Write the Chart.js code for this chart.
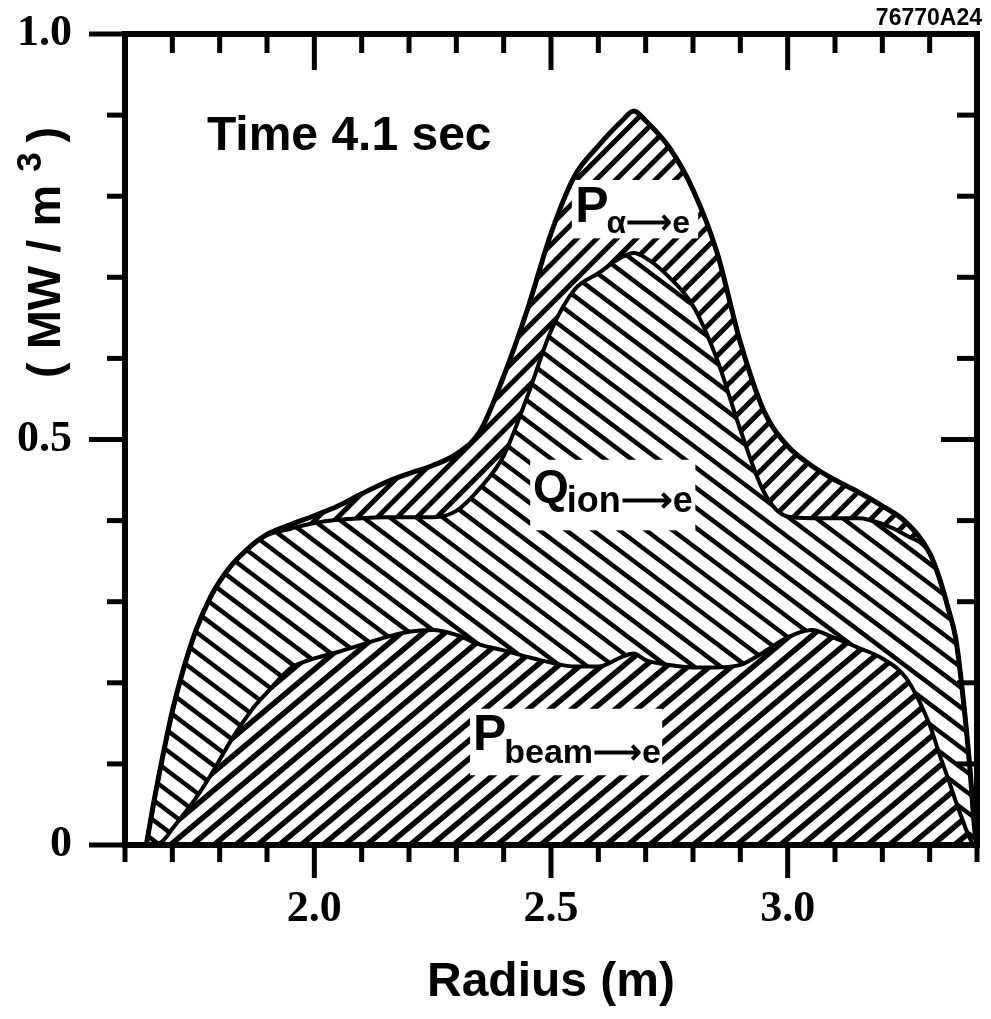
<!DOCTYPE html>
<html>
<head>
<meta charset="utf-8">
<script src="https://cdn.jsdelivr.net/npm/chart.js@4.4.1/dist/chart.umd.min.js"></script>
<style>
  html, body { margin: 0; padding: 0; background: #fff; }
  canvas { display: block; }
</style>
</head>
<body>
<canvas id="chart" width="991" height="1019"></canvas>
<script>
// radius grid (m), shared by the three boundaries
const radius = [1.645, 1.66, 1.68, 1.70, 1.72, 1.75, 1.78, 1.80, 1.825, 1.85,
  1.875, 1.90, 1.95, 2.00, 2.05, 2.10, 2.15, 2.20, 2.25, 2.30,
  2.35, 2.40, 2.45, 2.50, 2.55, 2.60, 2.65, 2.675, 2.70, 2.75,
  2.80, 2.85, 2.90, 2.95, 3.00, 3.05, 3.10, 3.15, 3.20, 3.25,
  3.30, 3.32, 3.34, 3.355, 3.37, 3.385, 3.395, 3.40];

// top of P beam->e (MW/m3)
const beamEdge = [0, 0, 0.005, 0.02, 0.035, 0.058, 0.085, 0.105, 0.13, 0.152,
  0.172, 0.188, 0.218, 0.23, 0.238, 0.247, 0.256, 0.263, 0.265, 0.259,
  0.247, 0.24, 0.232, 0.225, 0.22, 0.22, 0.232, 0.236, 0.228, 0.222,
  0.219, 0.219, 0.222, 0.238, 0.256, 0.265, 0.255, 0.243, 0.23, 0.206,
  0.148, 0.113, 0.08, 0.054, 0.03, 0.008, 0, 0];

// top of P beam->e + Q ion->e
const ionEdge = [0, 0.05, 0.11, 0.165, 0.21, 0.265, 0.305, 0.325, 0.345, 0.36,
  0.373, 0.382, 0.39, 0.397, 0.401, 0.403, 0.404, 0.404, 0.404, 0.412,
  0.44, 0.48, 0.553, 0.634, 0.685, 0.705, 0.725, 0.73, 0.724, 0.7,
  0.665, 0.6, 0.512, 0.435, 0.405, 0.403, 0.403, 0.403, 0.396, 0.382,
  0.36, 0.33, 0.29, 0.255, 0.185, 0.095, 0.02, 0];

// total, with P alpha->e on top
const totalEdge = [0, 0.05, 0.11, 0.165, 0.21, 0.265, 0.305, 0.325, 0.345, 0.36,
  0.373, 0.383, 0.395, 0.406, 0.418, 0.433, 0.447, 0.458, 0.468, 0.482,
  0.51, 0.578, 0.66, 0.754, 0.825, 0.862, 0.893, 0.905, 0.893, 0.86,
  0.808, 0.732, 0.62, 0.535, 0.492, 0.468, 0.45, 0.435, 0.418, 0.398,
  0.36, 0.33, 0.29, 0.255, 0.185, 0.095, 0.02, 0];

const xTickValues = [2.0, 2.5, 3.0];
const yTickValues = [0, 0.5, 1.0];

const W = 991, H = 1019;
const SANS = '"Liberation Sans", Arial, sans-serif';
const SERIF = '"Liberation Serif", "Times New Roman", serif';

// diagonal hatching as a canvas pattern
function makeHatch(angle, gap, lw) {
  const c = document.createElement('canvas');
  c.width = W; c.height = H;
  const g = c.getContext('2d');
  const a = angle * Math.PI / 180;
  const dx = Math.cos(a), dy = -Math.sin(a);
  const nx = -dy, ny = dx;
  const L = W + H;
  g.strokeStyle = '#000';
  g.lineWidth = lw;
  for (let k = -L; k <= L; k += gap) {
    const cx = W / 2 + nx * k, cy = H / 2 + ny * k;
    g.beginPath();
    g.moveTo(cx - dx * L, cy - dy * L);
    g.lineTo(cx + dx * L, cy + dy * L);
    g.stroke();
  }
  return g.createPattern(c, 'no-repeat');
}

const beamHatch = makeHatch(40, 14, 5.5);
const ionHatch = makeHatch(-37, 16, 4.5);
const alphaHatch = makeHatch(45, 14, 5);

// text labels sitting on white boxes (data coords)
const regionLabels = [
  { main: 'P', sub: 'α⟶e', box: [2.544, 2.811, 0.820, 0.748], at: [2.551, 0.768], size: 50, subSize: 32, subDrop: 11 },
  { main: 'Q', sub: 'ion⟶e', box: [2.456, 2.805, 0.475, 0.388], at: [2.462, 0.423], size: 46, subSize: 36, subDrop: 10 },
  { main: 'P', sub: 'beam⟶e', box: [2.329, 2.735, 0.168, 0.086], at: [2.335, 0.117], size: 50, subSize: 34, subDrop: 13 }
];

const labelBoxes = {
  id: 'labelBoxes',
  beforeDatasetsDraw(chart) {
    const { ctx, scales: { x, y } } = chart;
    ctx.save();
    ctx.fillStyle = '#fff';
    regionLabels.forEach(l => {
      const x0 = x.getPixelForValue(l.box[0]), x1 = x.getPixelForValue(l.box[1]);
      const y0 = y.getPixelForValue(l.box[2]), y1 = y.getPixelForValue(l.box[3]);
      ctx.fillRect(x0, y0, x1 - x0, y1 - y0);
    });
    ctx.restore();
  },
  afterDatasetsDraw(chart) {
    const { ctx, scales: { x, y } } = chart;
    ctx.save();
    ctx.fillStyle = '#000';
    ctx.textBaseline = 'alphabetic';
    regionLabels.forEach(l => {
      const px = x.getPixelForValue(l.at[0]), py = y.getPixelForValue(l.at[1]);
      ctx.font = 'bold ' + l.size + 'px ' + SANS;
      ctx.fillText(l.main, px, py);
      const w = ctx.measureText(l.main).width;
      ctx.font = 'bold ' + l.subSize + 'px ' + SANS;
      ctx.fillText(l.sub, px + w - 2, py + l.subDrop);
    });
    ctx.font = 'bold 48px ' + SANS;
    ctx.fillText('Time 4.1 sec', x.getPixelForValue(1.773), y.getPixelForValue(0.857));
    ctx.restore();
  }
};

// frame, tick marks, y title and figure code
const frameAndTicks = {
  id: 'frameAndTicks',
  afterDraw(chart) {
    const { ctx, chartArea: a, scales: { x, y } } = chart;
    const line = (x1, y1, x2, y2) => {
      ctx.beginPath(); ctx.moveTo(x1, y1); ctx.lineTo(x2, y2); ctx.stroke();
    };
    ctx.save();
    ctx.strokeStyle = '#000';
    ctx.lineWidth = 6;
    ctx.strokeRect(a.left, a.top, a.right - a.left, a.bottom - a.top);
    ctx.lineWidth = 5;
    for (let k = 16; k <= 34; k++) {
      const px = x.getPixelForValue(k / 10), major = k % 5 === 0;
      line(px, a.bottom, px, a.bottom + (major ? 33 : 17));
      if (k > 16 && k < 34) line(px, a.top, px, a.top + (major ? 36 : 19));
    }
    for (let k = 0; k <= 10; k++) {
      const py = y.getPixelForValue(k / 10), major = k % 5 === 0;
      line(a.left, py, a.left - (major ? 36 : 18), py);
      if (k > 0 && k < 10) line(a.right, py, a.right - (major ? 36 : 20), py);
    }

    // y title with raised 3
    ctx.fillStyle = '#000';
    ctx.translate(60, 378);
    ctx.rotate(-Math.PI / 2);
    ctx.textBaseline = 'alphabetic';
    ctx.font = 'bold 47px ' + SANS;
    const p1 = '( MW / m ';
    ctx.fillText(p1, 0, 0);
    let pos = ctx.measureText(p1).width;
    ctx.font = 'bold 35px ' + SANS;
    ctx.fillText('3', pos, -19);
    pos += ctx.measureText('3 ').width;
    ctx.font = 'bold 47px ' + SANS;
    ctx.fillText(')', pos, 0);
    ctx.restore();

    ctx.save();
    ctx.fillStyle = '#000';
    ctx.font = 'bold 23px ' + SANS;
    ctx.textAlign = 'right';
    ctx.textBaseline = 'alphabetic';
    ctx.fillText('76770A24', 982, 25);
    ctx.restore();
  }
};

new Chart(document.getElementById('chart'), {
  type: 'line',
  data: {
    labels: radius,
    datasets: [
      { label: 'P beam->e', data: beamEdge, fill: 'origin', backgroundColor: beamHatch,
        borderColor: '#000', borderWidth: 4, pointRadius: 0, cubicInterpolationMode: 'monotone' },
      { label: 'Q ion->e', data: ionEdge, fill: '-1', backgroundColor: ionHatch,
        borderColor: '#000', borderWidth: 4, pointRadius: 0, cubicInterpolationMode: 'monotone' },
      { label: 'P alpha->e', data: totalEdge, fill: '-1', backgroundColor: alphaHatch,
        borderColor: '#000', borderWidth: 5, pointRadius: 0, cubicInterpolationMode: 'monotone' }
    ]
  },
  options: {
    responsive: false,
    animation: false,
    layout: { padding: { top: 34, right: 14, left: 0, bottom: 0 } },
    plugins: {
      legend: { display: false },
      tooltip: { enabled: false },
      filler: { drawTime: 'beforeDatasetsDraw' }
    },
    scales: {
      x: {
        type: 'linear', min: 1.6, max: 3.4,
        afterBuildTicks: s => { s.ticks = xTickValues.map(v => ({ value: v })); },
        afterFit: s => { s.height = 174; s.paddingLeft = 0; s.paddingRight = 0; },
        grid: { display: false, drawTicks: false },
        border: { display: false },
        ticks: {
          padding: 38, color: '#000', maxRotation: 0, autoSkip: false,
          font: { family: SERIF, size: 44, weight: 'bold' },
          callback: v => v.toFixed(1)
        },
        title: {
          display: true, text: 'Radius (m)', color: '#000',
          font: { family: SANS, size: 48, weight: 'bold' },
          padding: { top: 7, bottom: 7 }
        }
      },
      y: {
        type: 'linear', min: 0, max: 1.0,
        afterBuildTicks: s => { s.ticks = yTickValues.map(v => ({ value: v })); },
        afterFit: s => { s.width = 125; s.paddingTop = 0; s.paddingBottom = 0; },
        grid: { display: false, drawTicks: false },
        border: { display: false },
        ticks: {
          padding: 53, color: '#000', autoSkip: false,
          font: { family: SERIF, size: 44, weight: 'bold' },
          callback: v => v === 0 ? '0' : v.toFixed(1)
        }
      }
    }
  },
  plugins: [labelBoxes, frameAndTicks]
});
</script>
</body>
</html>
